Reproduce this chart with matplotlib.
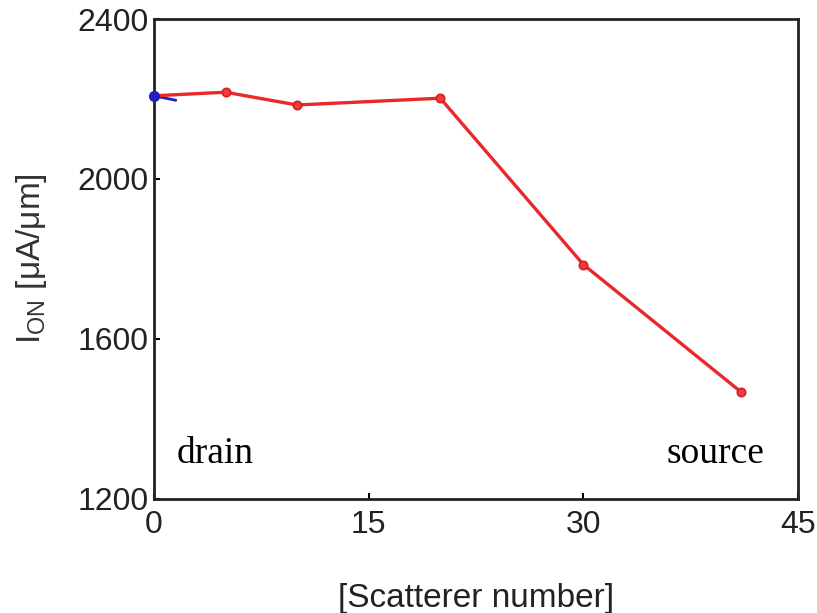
import matplotlib
matplotlib.use("Agg")
import matplotlib.pyplot as plt

# Data
scatterer = [0, 5, 10, 20, 30, 41]
i_on = [2208, 2217, 2185, 2202, 1786, 1468]
blue_x = [0, 1.5]
blue_y = [2208, 2197]
x_ticks = [0, 15, 30, 45]
y_ticks = [1200, 1600, 2000, 2400]

fig = plt.figure(figsize=(8.17, 6.13), dpi=100)
ax = fig.add_axes([0.1885, 0.1860, 0.7883, 0.7830])

ax.plot(scatterer, i_on, color='#e8282a', lw=2.4, marker='o', ms=6,
        mfc='#f03c3c', mec='#d81e1e', mew=1.2, clip_on=False, zorder=3)
ax.plot(blue_x, blue_y, color='#2020c0', lw=2, zorder=2, clip_on=False)
ax.plot(blue_x[:1], blue_y[:1], 'o', color='#2020c0', ms=7, clip_on=False, zorder=4)

ax.set_xlim(0, 45)
ax.set_ylim(1200, 2400)
ax.set_xticks(x_ticks)
ax.set_yticks(y_ticks)
ax.tick_params(direction='in', length=4, width=1.5, labelsize=23,
               labelcolor='#222222')
ax.tick_params(axis='x', pad=8)
ax.tick_params(axis='y', pad=4)
for s in ax.spines.values():
    s.set_linewidth(2)
    s.set_color('#222222')
for lab in ax.get_xticklabels() + ax.get_yticklabels():
    lab.set_family('Liberation Sans')

ax.set_xlabel('[Scatterer number]', fontsize=24, family='Liberation Sans',
              color='#222222', labelpad=31)
ax.set_ylabel(r'I$_{\mathregular{ON}}$ [$\mathregular{\mu}$A/$\mathregular{\mu}$m]',
              fontsize=24, family='Liberation Sans', color='#333333', labelpad=20)

ax.text(4.3, 1312, 'drain', fontsize=27, family='Liberation Serif',
        ha='center', va='center', color='black')
ax.text(39.2, 1312, 'source', fontsize=27, family='Liberation Serif',
        ha='center', va='center', color='black')

fig.savefig('out.png', dpi=100)
